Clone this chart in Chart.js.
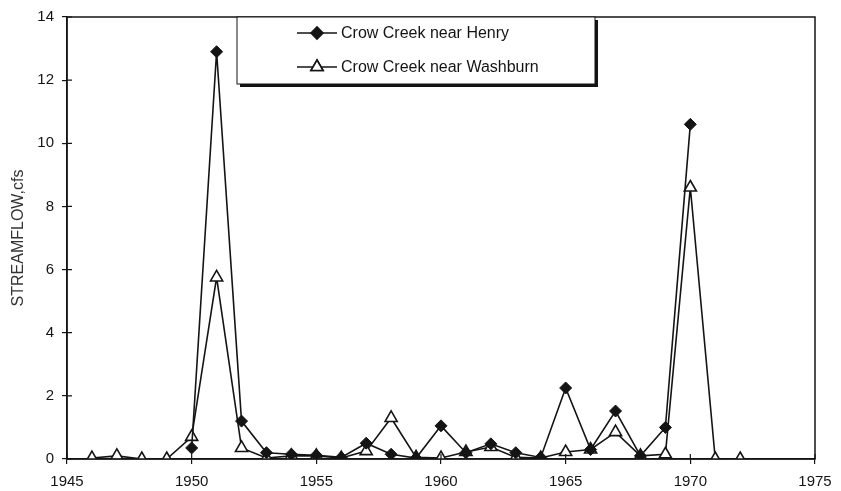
<!DOCTYPE html>
<html>
<head>
<meta charset="utf-8">
<script src="https://cdn.jsdelivr.net/npm/chart.js@4/dist/chart.umd.min.js"></script>
<style>
  html, body { margin: 0; padding: 0; background: #fff; }
  #wrap { width: 841px; height: 491px; position: relative; }
</style>
</head>
<body>
<div id="wrap"><canvas id="flowChart"></canvas></div>
<script>
// Dati
const years = [1946, 1947, 1948, 1949, 1950, 1951, 1952, 1953, 1954, 1955, 1956, 1957, 1958, 1959,
               1960, 1961, 1962, 1963, 1964, 1965, 1966, 1967, 1968, 1969, 1970, 1971, 1972];
const henryFlow = [null, null, null, null, 0.35, 12.9, 1.2, 0.2, 0.15, 0.12, 0.05, 0.5, 0.15, 0.03,
                   1.05, 0.2, 0.48, 0.2, 0.05, 2.25, 0.3, 1.52, 0.1, 1.0, 10.6, null, null];
const washburnFlow = [0.03, 0.1, 0, 0, 0.7, 5.75, 0.35, 0.03, 0.1, 0.1, 0.03, 0.25, 1.3, 0.05,
                      0.03, 0.22, 0.38, 0.05, 0.03, 0.22, 0.3, 0.85, 0.1, 0.15, 8.6, 0, 0];
const seriesNames = ['Crow Creek near Henry', 'Crow Creek near Washburn'];
const xTicks = [1945, 1950, 1955, 1960, 1965, 1970, 1975];
const yTicks = [0, 2, 4, 6, 8, 10, 12, 14];

const ink = '#141414';
const fontName = '"Liberation Sans", Arial, Helvetica, sans-serif';

// cornice, tacche interne e legenda
const framePlugin = {
    id: 'frame',
    afterDatasetsDraw(chart) {
        const { ctx, chartArea: a, scales } = chart;
        ctx.save();
        ctx.strokeStyle = ink;
        ctx.lineWidth = 1.5;
        ctx.strokeRect(a.left, a.top, a.right - a.left, a.bottom - a.top);
        ctx.lineWidth = 1.2;
        ctx.beginPath();
        xTicks.forEach(v => {
            const px = scales.x.getPixelForValue(v);
            ctx.moveTo(px, a.bottom);
            ctx.lineTo(px, a.bottom - 5);
        });
        yTicks.forEach(v => {
            const py = scales.y.getPixelForValue(v);
            ctx.moveTo(a.left, py);
            ctx.lineTo(a.left + 5, py);
        });
        ctx.stroke();

        // legenda
        const bx = 237, by = 17, bw = 358, bh = 67;
        ctx.fillStyle = '#fff';
        ctx.fillRect(bx, by, bw, bh);
        ctx.fillStyle = ink;
        ctx.fillRect(bx + 3, by + bh, bw, 3);
        ctx.fillRect(bx + bw, by + 3, 3, bh);
        ctx.lineWidth = 1;
        ctx.strokeRect(bx, by, bw, bh);

        const rows = [33, 67];
        chart.data.datasets.forEach((ds, i) => {
            const y = rows[i];
            ctx.strokeStyle = ink;
            ctx.lineWidth = 1.6;
            ctx.beginPath();
            ctx.moveTo(297, y);
            ctx.lineTo(337, y);
            ctx.stroke();
            Chart.helpers.drawPoint(ctx, {
                pointStyle: ds.pointStyle,
                radius: ds.pointRadius,
                borderWidth: ds.pointBorderWidth
            }, 317, y);
            ctx.fillStyle = ds.pointBackgroundColor;
            ctx.strokeStyle = ink;
            ctx.lineWidth = ds.pointBorderWidth;
            ctx.fill();
            ctx.stroke();
            ctx.fillStyle = ink;
            ctx.font = '16px ' + fontName;
            ctx.textAlign = 'left';
            ctx.textBaseline = 'middle';
            ctx.fillText(ds.label, 341, y + 1);
        });
        ctx.restore();
    }
};

const ctxFlow = document.getElementById('flowChart').getContext('2d');
const flowChart = new Chart(ctxFlow, {
    type: 'line',
    data: {
        datasets: [{
            label: seriesNames[0],
            data: years.map((yr, i) => ({ x: yr, y: henryFlow[i] })),
            borderColor: ink,
            borderWidth: 1.6,
            pointStyle: 'rectRot',
            pointRadius: 6,
            pointBackgroundColor: ink,
            pointBorderColor: ink,
            pointBorderWidth: 1,
            tension: 0
        }, {
            label: seriesNames[1],
            data: years.map((yr, i) => ({ x: yr, y: washburnFlow[i] })),
            borderColor: ink,
            borderWidth: 1.6,
            pointStyle: 'triangle',
            pointRadius: 7,
            pointBackgroundColor: '#fff',
            pointBorderColor: ink,
            pointBorderWidth: 1.6,
            tension: 0
        }]
    },
    options: {
        responsive: true,
        maintainAspectRatio: false,
        animation: false,
        layout: { padding: { top: 13, right: 26, left: 9, bottom: 0 } },
        plugins: {
            legend: { display: false },
            tooltip: { enabled: false }
        },
        scales: {
            x: {
                type: 'linear',
                min: 1945,
                max: 1975,
                afterBuildTicks: s => { s.ticks = xTicks.map(v => ({ value: v })); },
                afterFit: s => { s.height = 32; },
                ticks: {
                    color: ink,
                    font: { family: fontName, size: 15 },
                    padding: 9,
                    maxRotation: 0,
                    callback: v => String(v)
                },
                grid: { drawOnChartArea: false, color: ink, tickLength: 5, lineWidth: 1.2 },
                border: { color: ink, width: 1.5 }
            },
            y: {
                min: 0,
                max: 14,
                afterBuildTicks: s => { s.ticks = yTicks.map(v => ({ value: v })); },
                afterFit: s => { s.width = 58; },
                ticks: {
                    color: ink,
                    font: { family: fontName, size: 15 },
                    padding: 8
                },
                grid: { drawOnChartArea: false, color: ink, tickLength: 5, lineWidth: 1.2 },
                border: { color: ink, width: 1.5 },
                title: {
                    display: true,
                    text: 'STREAMFLOW,cfs',
                    color: '#333',
                    font: { family: fontName, size: 16 },
                    padding: 0
                }
            }
        }
    },
    plugins: [framePlugin]
});
</script>
</body>
</html>
